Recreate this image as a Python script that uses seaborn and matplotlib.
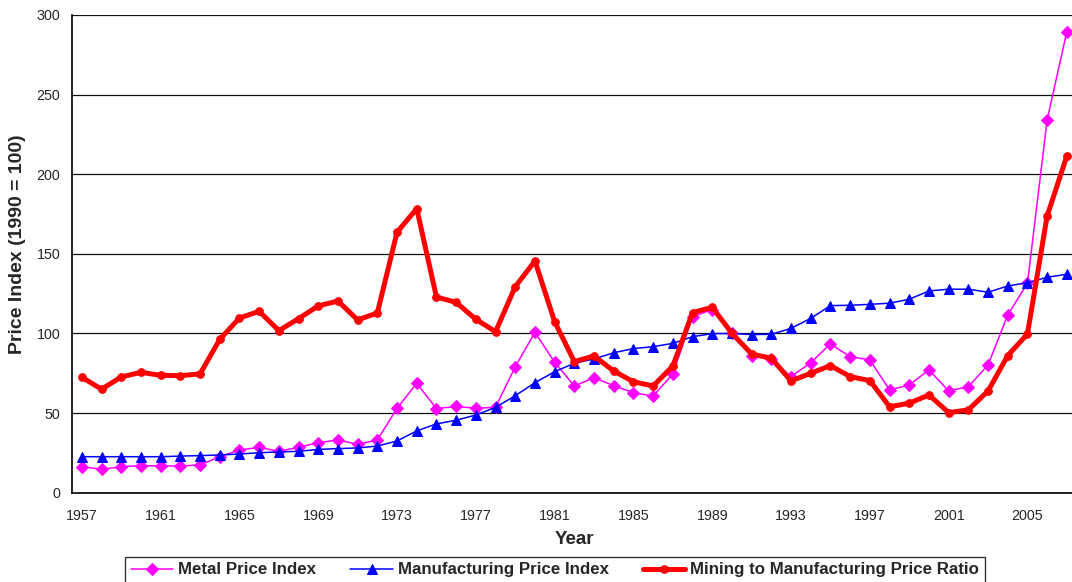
import numpy as np
import pandas as pd
import matplotlib
matplotlib.use('Agg')
import matplotlib.pyplot as plt
import seaborn as sns

sns.set_style('white')
plt.rcParams['font.family'] = ['Liberation Sans', 'DejaVu Sans']

years = list(range(1957, 2008))

metal_index = [
    16.3, 14.7, 16.3, 17.0, 16.8, 16.8, 17.4, 22.6, 26.8, 28.5,
    26.0, 28.5, 31.4, 33.1, 30.4, 33.1, 53.0, 68.7, 52.8, 54.2,
    53.0, 53.6, 79.1, 100.7, 81.9, 67.0, 72.2, 67.2, 62.8, 60.7,
    74.6, 110.6, 115.0, 100.0, 86.1, 83.8, 72.9, 81.7, 93.4, 85.4,
    83.4, 64.5, 67.7, 77.1, 63.9, 66.6, 80.2, 111.6, 131.5, 234.1,
    289.6,
]
manufacturing_index = [
    22.6, 22.6, 22.6, 22.6, 22.6, 23.0, 23.3, 23.7, 24.3, 25.1,
    25.6, 26.0, 27.2, 27.7, 28.1, 29.3, 32.5, 38.8, 43.2, 45.5,
    48.8, 53.6, 60.9, 69.1, 76.0, 81.3, 84.0, 87.9, 90.5, 91.7,
    93.8, 98.0, 99.9, 100.0, 99.3, 99.5, 103.2, 109.5, 117.5, 117.7,
    118.3, 119.0, 121.5, 126.7, 127.8, 127.8, 125.9, 129.8, 131.9, 135.3,
    137.2,
]
mining_ratio = [
    72.5, 65.0, 72.7, 75.6, 73.7, 73.5, 74.6, 96.3, 109.7, 113.9,
    101.8, 109.3, 117.3, 120.4, 108.5, 112.9, 163.6, 178.4, 122.9, 119.5,
    108.9, 101.1, 129.4, 145.5, 107.4, 82.3, 85.9, 76.4, 69.7, 67.0,
    79.6, 113.1, 116.4, 100.1, 87.1, 84.4, 70.2, 75.0, 79.8, 72.9,
    70.4, 54.0, 56.2, 61.4, 50.3, 52.0, 63.9, 86.1, 99.7, 173.8,
    211.5,
]

df = pd.DataFrame({
    'Year': years,
    'Metal Price Index': metal_index,
    'Manufacturing Price Index': manufacturing_index,
    'Mining to Manufacturing Price Ratio': mining_ratio,
})

W, H = 1072, 582
fig = plt.figure(figsize=(W / 100, H / 100), dpi=100)
ax = fig.add_axes([72 / W, (H - 492.7) / H, 1004.7 / W, 477.7 / H])

sns.lineplot(data=df, x='Year', y='Metal Price Index', ax=ax, color='#FF00FF',
             linewidth=1.1, marker='D', markersize=6, markeredgecolor='#FF00FF',
             label='Metal Price Index', zorder=3)
sns.lineplot(data=df, x='Year', y='Manufacturing Price Index', ax=ax, color='#0000FF',
             linewidth=1.1, marker='^', markersize=7, markeredgecolor='#0000FF',
             label='Manufacturing Price Index', zorder=4)
sns.lineplot(data=df, x='Year', y='Mining to Manufacturing Price Ratio', ax=ax,
             color='#FF0000', linewidth=3.6, marker='o', markersize=5.5,
             markeredgecolor='#FF0000', label='Mining to Manufacturing Price Ratio',
             zorder=5)

ax.set_xlim(years[0] - 0.5, years[-1] + 0.5)
ax.set_ylim(0, 300)
ax.set_yticks(range(0, 301, 50))
ax.yaxis.grid(True, color='#111111', linewidth=0.9)
ax.set_axisbelow(True)

# category boundaries get the tick marks, labels sit on every 4th year
ax.set_xticks(np.arange(years[0] - 0.5, years[-1] + 1, 1.0), minor=True)
ax.set_xticks(years[::4])
ax.set_xticklabels([str(y) for y in years[::4]])
ax.tick_params(axis='x', which='major', length=0, pad=12, labelsize=10.3)
ax.tick_params(axis='x', which='minor', length=5, width=1, color='black', direction='out')
ax.tick_params(axis='y', length=5, width=1, color='black', direction='out', labelsize=10.3)

for s in ['top', 'right']:
    ax.spines[s].set_visible(False)
for s in ['left', 'bottom']:
    ax.spines[s].set_color('black')
    ax.spines[s].set_linewidth(1.2)

ax.set_xlabel('Year', fontsize=13.5, fontweight='bold')
ax.set_ylabel('Price Index (1990 = 100)', fontsize=14, fontweight='bold')
ax.yaxis.set_label_coords(-0.046, 0.52)
ax.xaxis.set_label_coords(0.5, -0.08)

ax.get_legend().remove()
handles, labels = ax.get_legend_handles_labels()
leg = fig.legend(handles, labels, ncol=3, loc='upper center',
                 bbox_to_anchor=(555 / W, 1 - 556.5 / H), frameon=True, fancybox=False,
                 edgecolor='black', prop={'weight': 'bold', 'size': 12.2},
                 handlelength=2.5, columnspacing=2.0, borderpad=0.35,
                 handletextpad=0.3, borderaxespad=0)
leg.get_frame().set_linewidth(1.0)

fig.savefig('out.png', dpi=100)
